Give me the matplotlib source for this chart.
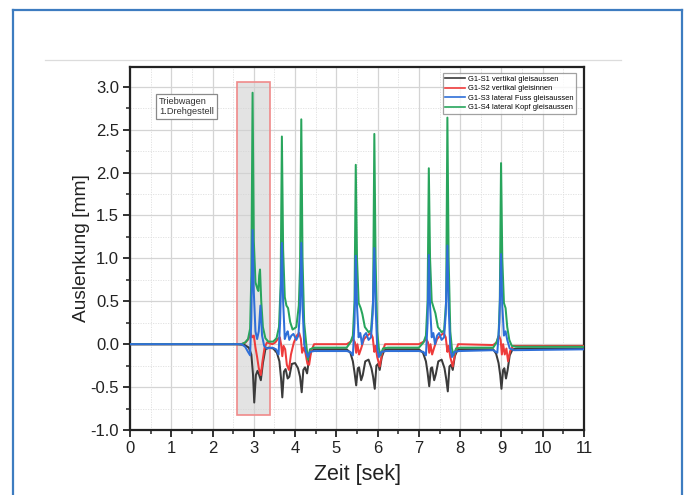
import matplotlib
matplotlib.use("Agg")
import matplotlib.pyplot as plt
from matplotlib.patches import Rectangle
from matplotlib.lines import Line2D
from matplotlib.ticker import MultipleLocator

plt.rcParams['font.family'] = ['Liberation Sans', 'DejaVu Sans']

# ---------------- data ----------------
series_labels = ["G1-S1 vertikal gleisaussen", "G1-S2 vertikal gleisinnen",
                 "G1-S3 lateral Fuss gleisaussen", "G1-S4 lateral Kopf gleisaussen"]

t_s1 = [0, 2.6, 2.78, 2.88, 2.94, 2.98, 3.01, 3.05, 3.09, 3.13, 3.17, 3.22, 3.28, 3.36,
        3.47, 3.56, 3.62, 3.66, 3.69, 3.73, 3.77, 3.82, 3.86, 3.92, 4.0, 4.07, 4.12, 4.16, 4.2, 4.24, 4.29, 4.33, 4.38, 4.46,
        5.25, 5.34, 5.4, 5.44, 5.48, 5.52, 5.55, 5.6, 5.64, 5.7, 5.78, 5.85, 5.89, 5.93, 5.97, 6.01, 6.05, 6.1, 6.16, 6.25,
        7.0, 7.1, 7.17, 7.21, 7.25, 7.29, 7.32, 7.37, 7.41, 7.47, 7.55, 7.62, 7.66, 7.70, 7.74, 7.78, 7.82, 7.87, 7.93, 8.02,
        8.8, 8.87, 8.93, 8.97, 9.0, 9.04, 9.07, 9.11, 9.15, 9.2, 9.27, 9.4, 11]
v_s1 = [0, 0, -0.01, -0.04, -0.12, -0.35, -0.68, -0.36, -0.31, -0.36, -0.42, -0.22, -0.06, -0.04,
        -0.05, -0.1, -0.2, -0.4, -0.62, -0.32, -0.29, -0.4, -0.38, -0.23, -0.22, -0.28, -0.38, -0.56, -0.3, -0.27, -0.34, -0.2, -0.09, -0.06,
        -0.06, -0.1, -0.2, -0.33, -0.48, -0.28, -0.27, -0.42, -0.36, -0.2, -0.18, -0.28, -0.38, -0.52, -0.25, -0.23, -0.3, -0.15, -0.07, -0.06,
        -0.06, -0.1, -0.2, -0.33, -0.49, -0.28, -0.27, -0.42, -0.35, -0.2, -0.18, -0.28, -0.4, -0.55, -0.26, -0.24, -0.3, -0.14, -0.07, -0.06,
        -0.06, -0.11, -0.22, -0.36, -0.52, -0.3, -0.28, -0.4, -0.3, -0.13, -0.06, -0.05, -0.05]

t_s2 = [0, 2.7, 2.8, 2.87, 2.92, 2.96, 3.0, 3.04, 3.08, 3.12, 3.17, 3.21, 3.26, 3.32, 3.45,
        3.52, 3.58, 3.63, 3.66, 3.69, 3.72, 3.76, 3.8, 3.85, 3.9, 3.97, 4.04, 4.1, 4.14, 4.17, 4.21, 4.25, 4.3, 4.34, 4.39, 4.46,
        5.25, 5.35, 5.41, 5.45, 5.48, 5.51, 5.55, 5.6, 5.67, 5.75, 5.83, 5.88, 5.92, 5.95, 5.99, 6.05, 6.11, 6.18,
        7.0, 7.12, 7.18, 7.22, 7.25, 7.28, 7.32, 7.37, 7.44, 7.52, 7.6, 7.65, 7.69, 7.72, 7.76, 7.82, 7.88, 7.95,
        8.8, 8.88, 8.94, 8.98, 9.01, 9.04, 9.08, 9.12, 9.16, 9.21, 9.28, 11]
v_s2 = [0, 0, 0.02, 0.06, 0.13, 0.08, 0.1, -0.04, -0.15, -0.28, -0.36, -0.2, -0.04, 0.02, 0.0,
        0.02, 0.06, 0.08, 0.0, -0.14, -0.02, -0.06, -0.24, -0.3, -0.12, 0.02, 0.1, 0.13, 0.06, -0.1, -0.04, -0.1, -0.23, -0.24, -0.08, 0.0,
        0.0, 0.03, 0.06, 0.02, -0.1, 0.0, -0.12, -0.05, 0.06, 0.1, 0.13, 0.08, -0.09, -0.02, -0.15, -0.26, -0.1, 0.0,
        0.0, 0.03, 0.06, 0.02, -0.1, 0.0, -0.12, -0.04, 0.06, 0.1, 0.13, 0.08, -0.09, -0.02, -0.15, -0.26, -0.1, 0.0,
        -0.01, 0.02, 0.1, 0.05, -0.12, 0.0, -0.12, -0.05, -0.2, -0.08, -0.02, -0.02]

t_s3 = [0, 2.7, 2.79, 2.86, 2.91, 2.94, 2.97, 3.0, 3.04, 3.08, 3.12, 3.16, 3.2, 3.25, 3.32, 3.45,
        3.54, 3.6, 3.64, 3.68, 3.71, 3.75, 3.79, 3.82, 3.86, 3.91, 3.96, 4.03, 4.08, 4.12, 4.15, 4.18, 4.22, 4.27, 4.31, 4.36, 4.46,
        5.25, 5.34, 5.4, 5.44, 5.47, 5.5, 5.54, 5.58, 5.62, 5.67, 5.72, 5.78, 5.84, 5.88, 5.92, 5.95, 5.99, 6.03, 6.09, 6.2,
        7.0, 7.11, 7.17, 7.21, 7.24, 7.27, 7.31, 7.35, 7.39, 7.44, 7.49, 7.55, 7.61, 7.65, 7.69, 7.72, 7.76, 7.8, 7.86, 7.97,
        8.8, 8.9, 8.95, 8.99, 9.02, 9.06, 9.1, 9.14, 9.2, 9.3, 11]
v_s3 = [0, 0, -0.03, -0.09, -0.13, 0.3, 1.33, 0.6, 0.15, 0.06, 0.15, 0.45, 0.1, -0.02, -0.05, -0.04,
        -0.06, -0.12, 0.3, 1.18, 0.5, 0.06, 0.12, 0.15, 0.05, 0.1, 0.12, 0.05, 0.1, 0.4, 1.18, 0.45, 0.0, -0.1, -0.15, -0.09, -0.08,
        -0.08, -0.09, -0.13, 0.25, 1.03, 0.45, 0.08, 0.13, 0.0, 0.1, 0.13, 0.05, 0.08, 0.35, 1.12, 0.45, -0.05, -0.15, -0.09, -0.08,
        -0.08, -0.09, -0.13, 0.25, 1.04, 0.45, 0.08, 0.13, 0.0, 0.1, 0.13, 0.05, 0.08, 0.35, 1.15, 0.45, -0.05, -0.15, -0.09, -0.08,
        -0.07, -0.1, 0.25, 1.05, 0.45, 0.1, 0.15, 0.05, -0.05, -0.07, -0.06]

t_s4 = [0, 2.7, 2.79, 2.86, 2.91, 2.94, 2.97, 3.0, 3.04, 3.09, 3.11, 3.13, 3.15, 3.18, 3.22, 3.28, 3.35, 3.47,
        3.55, 3.61, 3.65, 3.68, 3.71, 3.75, 3.79, 3.83, 3.88, 3.94, 4.03, 4.09, 4.12, 4.15, 4.18, 4.22, 4.27, 4.31, 4.36, 4.46,
        5.25, 5.34, 5.4, 5.44, 5.47, 5.5, 5.54, 5.59, 5.63, 5.69, 5.78, 5.84, 5.89, 5.92, 5.95, 5.99, 6.03, 6.07, 6.13, 6.25,
        7.0, 7.11, 7.17, 7.21, 7.24, 7.27, 7.31, 7.36, 7.4, 7.46, 7.55, 7.61, 7.66, 7.69, 7.72, 7.76, 7.8, 7.84, 7.9, 8.02,
        8.8, 8.88, 8.93, 8.96, 8.99, 9.02, 9.06, 9.1, 9.14, 9.19, 9.25, 9.35, 11]
v_s4 = [0, 0, 0.02, 0.06, 0.18, 0.8, 2.93, 1.2, 0.72, 0.64, 0.62, 0.8, 0.87, 0.5, 0.2, 0.07, 0.03, 0.03,
        0.07, 0.2, 0.7, 2.42, 1.1, 0.55, 0.45, 0.42, 0.26, 0.17, 0.2, 0.45, 0.9, 2.62, 1.0, 0.25, 0.0, -0.18, -0.06, -0.04,
        -0.04, 0.02, 0.1, 0.5, 2.09, 1.0, 0.48, 0.42, 0.35, 0.2, 0.14, 0.16, 0.5, 2.45, 1.0, 0.15, -0.05, -0.13, -0.05, -0.04,
        -0.04, 0.02, 0.1, 0.5, 2.05, 1.0, 0.5, 0.42, 0.36, 0.2, 0.14, 0.16, 0.5, 2.64, 1.0, 0.15, -0.05, -0.13, -0.05, -0.04,
        -0.04, 0.02, 0.1, 0.5, 2.11, 1.0, 0.48, 0.42, 0.2, 0.05, -0.02, -0.03, -0.03]

highlight_t = (2.6, 3.4)
highlight_v = (-0.82, 3.05)
annotation_text = "Triebwagen\n1.Drehgestell"

# ---------------- figure ----------------
fig = plt.figure(figsize=(6.9, 4.95), dpi=100)
fig.patch.set_facecolor('white')

W, H = 690.0, 495.0
frame_col = '#3d7cc0'
fig.add_artist(Line2D([13 / W, 13 / W], [0, 1 - 10 / H], color=frame_col, lw=1.6, transform=fig.transFigure))
fig.add_artist(Line2D([13 / W, 682 / W], [1 - 10 / H, 1 - 10 / H], color=frame_col, lw=1.6, transform=fig.transFigure))
fig.add_artist(Line2D([682 / W, 682 / W], [0, 1 - 10 / H], color=frame_col, lw=1.6, transform=fig.transFigure))
fig.add_artist(Line2D([45 / W, 621 / W], [1 - 60 / H, 1 - 60 / H], color='#dcdcdc', lw=0.9, transform=fig.transFigure))

ax = fig.add_axes([130 / W, 65 / H, (584 - 130) / W, (430 - 67) / H])

ax.set_xlim(0, 11)
ax.set_ylim(-1.0, 3.23)
ax.xaxis.set_major_locator(MultipleLocator(1))
ax.xaxis.set_minor_locator(MultipleLocator(0.5))
ax.yaxis.set_minor_locator(MultipleLocator(0.25))
ax.set_yticks([-1.0, -0.5, 0.0, 0.5, 1.0, 1.5, 2.0, 2.5, 3.0])
ax.set_yticklabels(['-1.0', '-0.5', '0.0', '0.5', '1.0', '1.5', '2.0', '2.5', '3.0'])

ax.grid(which='major', color='#d4d4d4', lw=0.9, ls='-')
ax.grid(which='minor', color='#dedede', lw=0.6, ls=(0, (1.5, 1.5)))
ax.set_axisbelow(True)

ax.tick_params(which='major', direction='out', length=5, width=1.3, labelsize=12, colors='#222222', pad=3)
ax.tick_params(which='minor', direction='out', length=3, width=1.1, colors='#222222')
for s in ax.spines.values():
    s.set_linewidth(1.6)
    s.set_color('#222222')

ax.add_patch(Rectangle((highlight_t[0], highlight_v[0]), highlight_t[1] - highlight_t[0],
                       highlight_v[1] - highlight_v[0], facecolor=(0.82, 0.82, 0.82, 0.6),
                       edgecolor='#f08a8a', lw=1.2, zorder=1.5))

colors = ['#3b3b3b', '#ee3b3b', '#2f6fd8', '#28a55c']
zorders = [3.0, 3.1, 3.4, 3.2]
data = [(t_s1, v_s1), (t_s2, v_s2), (t_s3, v_s3), (t_s4, v_s4)]
for (tt, vv), c, lab, z in zip(data, colors, series_labels, zorders):
    ax.plot(tt, vv, color=c, lw=1.45, label=lab, zorder=z)

ax.set_xlabel('Zeit [sek]', fontsize=15.5, color='#222222', labelpad=6)
ax.set_ylabel('Auslenkung [mm]', fontsize=13.8, color='#222222', labelpad=0)

ax.text(0.7, 2.88, annotation_text, fontsize=6.7, va='top', ha='left', color='#333333', linespacing=1.15,
        bbox=dict(boxstyle='square,pad=0.3', facecolor='white', edgecolor='#8a8a8a', lw=0.9), zorder=4)

leg = ax.legend(loc='upper right', bbox_to_anchor=(0.982, 0.984), fontsize=5.4, frameon=True,
                fancybox=False, edgecolor='#8a8a8a', handlelength=2.6, handletextpad=0.4,
                borderpad=0.35, labelspacing=0.3, borderaxespad=0)
leg.set_zorder(5)
leg.get_frame().set_linewidth(0.9)
for h in leg.get_lines():
    h.set_linewidth(1.2)

fig.savefig('out.png', dpi=100, facecolor='white')
